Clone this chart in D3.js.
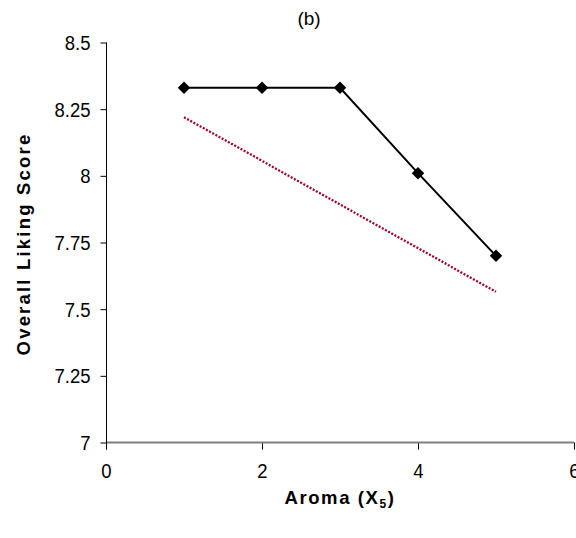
<!DOCTYPE html>
<html><head><meta charset="utf-8">
<script src="https://cdn.jsdelivr.net/npm/d3@7"></script>
<style>body{margin:0;background:#fff}svg{display:block}text{font-family:"Liberation Sans",Arial,sans-serif}</style>
</head><body>
<script>
const xValues = [1, 2, 3, 4, 5];
const yValues = [8.33, 8.33, 8.33, 8.01, 7.70];
const trendX = [1, 5];
const trendY = [8.22, 7.565];
const xTicks = [0, 2, 4, 6];
const yTicks = [7, 7.25, 7.5, 7.75, 8, 8.25, 8.5];
const yTickLabels = ["7", "7.25", "7.5", "7.75", "8", "8.25", "8.5"];

const W = 576, H = 538;
const svg = d3.select("body").append("svg").attr("width", W).attr("height", H);
const x = d3.scaleLinear().domain([0, 6]).range([106, 574]);
const y = d3.scaleLinear().domain([7, 8.5]).range([442.5, 42.5]);
const FF = '"Liberation Sans",Arial,sans-serif';

// y axis
const yAxis = d3.axisLeft(y).tickValues(yTicks).tickSize(6).tickPadding(10)
  .tickFormat((d, i) => yTickLabels[i]);
const gy = svg.append("g").attr("transform", "translate(106.5,0)").call(yAxis);
gy.select(".domain").remove();
gy.selectAll(".tick line").attr("stroke", "#000");
gy.selectAll(".tick text").attr("font-size", 18.5).attr("fill", "#000")
  .attr("y", 0).attr("transform", "scale(1,1.1)").attr("dy", 6.3)
  .style("font-family", FF);

// x axis
const xAxis = d3.axisBottom(x).tickValues(xTicks).tickSize(7).tickPadding(9).tickFormat(d3.format("d"));
const gx = svg.append("g").attr("transform", `translate(0,${y(7)})`).call(xAxis);
gx.select(".domain").remove();
gx.append("line").attr("x1", x(0)).attr("x2", x(6)).attr("y1", 0).attr("y2", 0)
  .attr("stroke", "#808080").attr("stroke-width", 2);
gx.selectAll(".tick line").attr("stroke", "#000");
gx.selectAll(".tick text").attr("font-size", 18.5).attr("fill", "#000")
  .attr("dy", null).attr("y", 32.5).attr("transform", "scale(1,1.1)")
  .style("font-family", FF);
// y axis line on top
svg.append("line").attr("x1", 106.5).attr("x2", 106.5).attr("y1", y(8.5)).attr("y2", y(7) + 7).attr("stroke", "#000");

// trend line
const trend = trendX.map((d, i) => [d, trendY[i]]);
svg.append("path").datum(trend)
  .attr("d", d3.line().x(d => x(d[0])).y(d => y(d[1])))
  .attr("fill", "none").attr("stroke", "#a0002e").attr("stroke-width", 2.3)
  .attr("stroke-dasharray", "2,1.6");

// data line
const pts = xValues.map((d, i) => [d, yValues[i]]);
svg.append("path").datum(pts)
  .attr("d", d3.line().x(d => x(d[0])).y(d => y(d[1])))
  .attr("fill", "none").attr("stroke", "#000").attr("stroke-width", 2);

svg.selectAll(".pt").data(pts).enter().append("path")
  .attr("class", "pt")
  .attr("transform", d => `translate(${x(d[0])},${y(d[1])})`)
  .attr("d", d3.symbol().type(d3.symbolDiamond2).size(100))
  .attr("fill", "#000");

// title
svg.append("text").attr("x", 309).attr("y", 25).attr("text-anchor", "middle")
  .attr("font-size", 19).text("(b)");

// x label
const xl = svg.append("text").attr("x", 340).attr("y", 504).attr("text-anchor", "middle")
  .attr("font-size", 18.5).attr("font-weight", "bold").attr("letter-spacing", 1.6);
xl.append("tspan").text("Aroma (X");
xl.append("tspan").attr("font-size", 12).attr("dy", 4).text("5");
xl.append("tspan").attr("dy", -4).text(")");

// y label
svg.append("text").attr("transform", "translate(30,244) rotate(-90)")
  .attr("text-anchor", "middle").attr("font-size", 18.5).attr("font-weight", "bold")
  .attr("letter-spacing", 2.2).text("Overall Liking Score");
</script>
</body></html>
